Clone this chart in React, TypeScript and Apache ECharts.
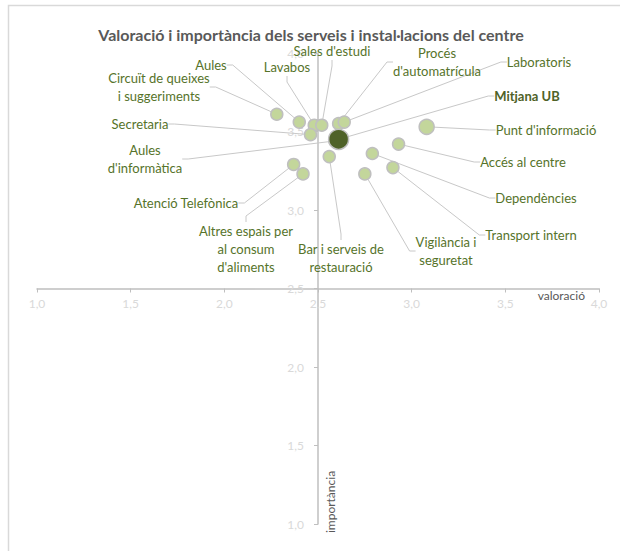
import React, { useEffect, useRef } from "react";
import * as echarts from "echarts";

// ---- data ----
const serviceNames = [
  "Circuït de queixes i suggeriments",
  "Aules",
  "Lavabos",
  "Sales d'estudi",
  "Secretaria",
  "Procés d'automatrícula",
  "Laboratoris",
  "Aules d'informàtica",
  "Punt d'informació",
  "Accés al centre",
  "Dependències",
  "Bar i serveis de restauració",
  "Atenció Telefònica",
  "Altres espais per al consum d'aliments",
  "Vigilància i seguretat",
  "Transport intern",
];
const labelTexts = [
  "Circuït de queixes\ni suggeriments",
  "Aules",
  "Lavabos",
  "Sales d'estudi",
  "Secretaria",
  "Procés\nd'automatrícula",
  "Laboratoris",
  "Aules\nd'informàtica",
  "Punt d'informació",
  "Accés al centre",
  "Dependències",
  "Bar i serveis de\nrestauració",
  "Atenció Telefònica",
  "Altres espais per\nal consum\nd'aliments",
  "Vigilància i\nseguretat",
  "Transport intern",
];
const valoracio = [2.28, 2.40, 2.48, 2.52, 2.46, 2.61, 2.64, 2.59, 3.08, 2.93, 2.79, 2.56, 2.37, 2.42, 2.75, 2.90];
const importancia = [3.61, 3.56, 3.54, 3.54, 3.48, 3.55, 3.56, 3.44, 3.53, 3.42, 3.36, 3.34, 3.29, 3.23, 3.23, 3.27];

const mitjanaName = "Mitjana UB";
const mitjanaValoracio = 2.61;
const mitjanaImportancia = 3.45;

const axisMin = 1;
const axisMax = 4;
const axisStep = 0.5;
const axisCross = 2.5;

// ---- layout (label centres, pixels) ----
const labelPos: [number, number][] = [
  [159, 87],
  [211, 65],
  [287, 67],
  [332, 51],
  [140, 124],
  [437, 62],
  [539, 62],
  [145, 159],
  [546, 130],
  [523, 162],
  [536, 198],
  [341, 258],
  [186, 203],
  [246, 249],
  [446, 251],
  [531, 235],
];
const mitjanaLabelPos: [number, number] = [527, 96];

const FONT = "Lato, 'Open Sans', sans-serif";
const LABEL_COLOR = "#56732a";

export default function App() {
  const ref = useRef<HTMLDivElement>(null);
  useEffect(() => {
    document.body.style.margin = "0";
    const chart = echarts.init(ref.current!, undefined, { renderer: "svg" });
    const fmt = (v: number) => v.toFixed(1).replace(".", ",");
    const gridLeft = 37, gridRight = 21, gridTop = 53, gridBottom = 27;
    const W = 620, H = 551;
    const gw = W - gridLeft - gridRight;
    const gh = H - gridTop - gridBottom;
    const xOffset = -((axisCross - axisMin) / (axisMax - axisMin)) * gh;
    const yOffset = -((axisCross - axisMin) / (axisMax - axisMin)) * gw;

    const axisCommon = {
      type: "value",
      min: axisMin,
      max: axisMax,
      interval: axisStep,
      splitLine: { show: false },
      axisLine: { show: true, lineStyle: { color: "#bfbfbf", width: 1.5 } },
      axisTick: { show: true, length: 4, lineStyle: { color: "#bfbfbf", width: 1 } },
      axisLabel: {
        color: "#d9d9d9",
        fontSize: 12,
        fontFamily: FONT,
        formatter: fmt,
        showMinLabel: true,
        showMaxLabel: true,
      },
    };

    const serviceData = serviceNames.map((n, i) => ({
      name: n,
      value: [valoracio[i], importancia[i]],
      label: { formatter: labelTexts[i] },
    }));

    chart.setOption({
      animation: false,
      title: {
        text: "Valoració i importància dels serveis i instal·lacions del centre",
        left: 306,
        top: 21,
        textAlign: "center",
        textStyle: { fontSize: 16, fontWeight: "bold", color: "#595959", fontFamily: FONT },
      },
      grid: { left: gridLeft, right: gridRight, top: gridTop, bottom: gridBottom },
      xAxis: {
        ...axisCommon,
        position: "bottom",
        offset: xOffset,
        axisLabel: { ...axisCommon.axisLabel, margin: 9 },
      },
      yAxis: {
        ...axisCommon,
        position: "left",
        offset: yOffset,
        axisLabel: { ...axisCommon.axisLabel, margin: 14 },
      },
      graphic: [
        {
          type: "rect",
          shape: { x: 8.5, y: 5.5, width: 700, height: 700 },
          style: { fill: "none", stroke: "#d9d9d9", lineWidth: 1.5 },
          silent: true,
          z: -10,
        },
        {
          type: "text",
          x: 585,
          y: 295,
          style: {
            text: "valoració",
            fill: "#595959",
            font: `12px ${FONT}`,
            align: "right",
            verticalAlign: "middle",
          },
        },
        {
          type: "text",
          x: 330,
          y: 502,
          rotation: Math.PI / 2,
          style: {
            text: "importància",
            fill: "#595959",
            font: `12px ${FONT}`,
            align: "center",
            verticalAlign: "middle",
          },
        },
      ],
      series: [
        {
          type: "scatter",
          data: serviceData,
          symbolSize: (_v: any, p: any) => (p.name === "Punt d'informació" ? 15 : 12),
          itemStyle: { color: "#c3d69b", borderColor: "#bfbfbf", borderWidth: 1.5, opacity: 1 },
          label: {
            show: true,
            color: LABEL_COLOR,
            fontSize: 13,
            lineHeight: 18,
            fontFamily: FONT,
            align: "center",
          },
          labelLine: {
            show: true,
            length2: 6,
            minTurnAngle: 0,
            lineStyle: { color: "#c8c8c8", width: 1 },
          },
          labelLayout: (p: any) => ({
            x: labelPos[p.dataIndex][0],
            y: labelPos[p.dataIndex][1],
            align: "center",
            verticalAlign: "middle",
          }),
          emphasis: { disabled: true },
        },
        {
          type: "scatter",
          data: [{ name: mitjanaName, value: [mitjanaValoracio, mitjanaImportancia] }],
          symbolSize: 20,
          itemStyle: { color: "#4f6228", borderColor: "#bfbfbf", borderWidth: 1.5, opacity: 1 },
          label: {
            show: true,
            formatter: "{b}",
            color: "#4f6228",
            fontSize: 13,
            fontWeight: "bold",
            fontFamily: FONT,
          },
          labelLine: {
            show: true,
            length2: 6,
            minTurnAngle: 0,
            lineStyle: { color: "#c8c8c8", width: 1 },
          },
          labelLayout: () => ({
            x: mitjanaLabelPos[0],
            y: mitjanaLabelPos[1],
            align: "center",
            verticalAlign: "middle",
          }),
          emphasis: { disabled: true },
        },
      ],
    });
    return () => chart.dispose();
  }, []);
  return <div ref={ref} style={{ width: 620, height: 551 }} />;
}
